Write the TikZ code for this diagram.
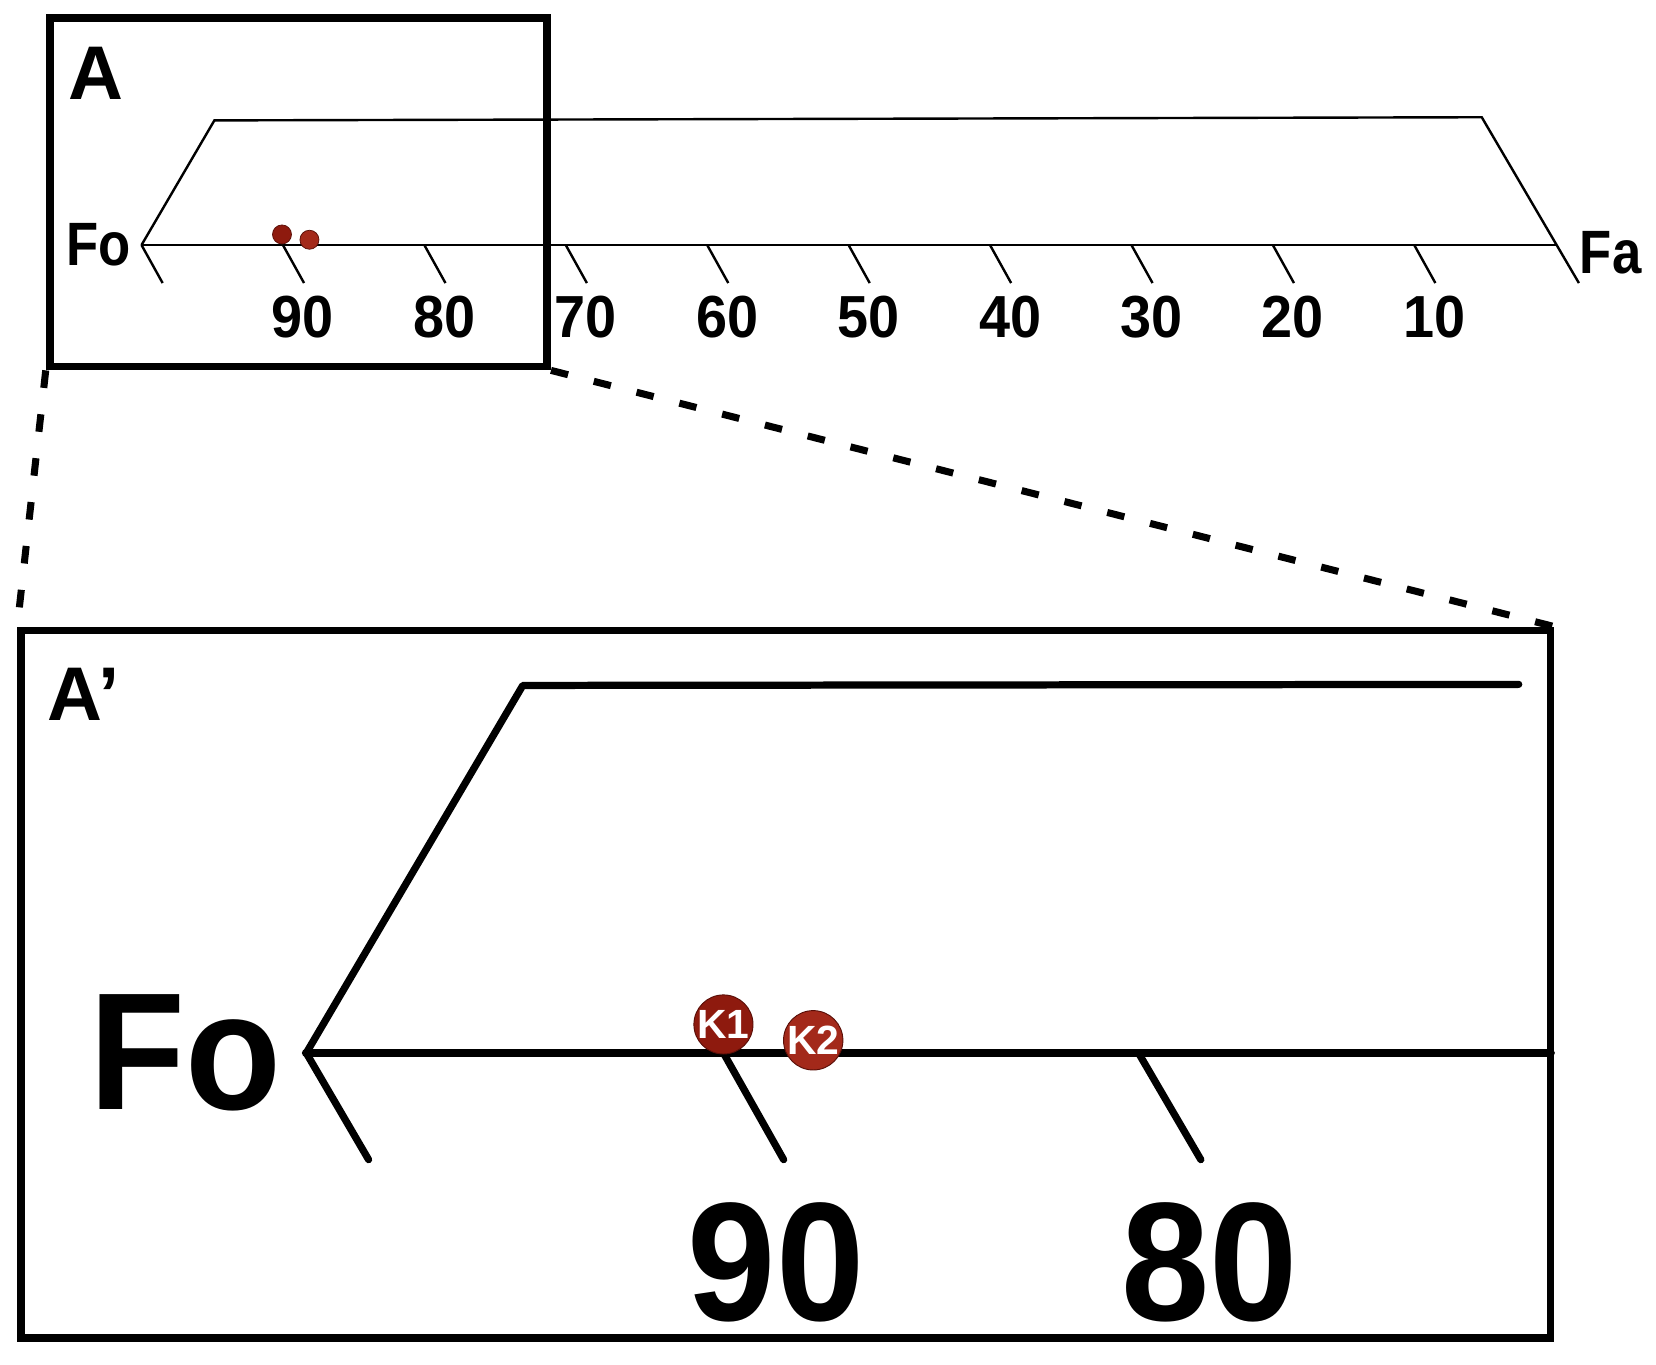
\documentclass[tikz,border=0pt]{standalone}
\usepackage{fontspec}
\setmainfont{Liberation Sans}
\newfontfamily\narrowA[FakeStretch=0.86]{Liberation Sans}
\newfontfamily\narrowB[FakeStretch=0.94]{Liberation Sans}
\usetikzlibrary{fit}
\definecolor{kone}{HTML}{8E1A0E}
\definecolor{ktwo}{HTML}{A3291A}
\definecolor{kedge}{HTML}{5A0F08}
\begin{document}
\begin{tikzpicture}[x=0.02cm,y=-0.02cm,
  framebox/.style={draw, line width=4.2pt, inner sep=0pt, line join=miter},
  dashline/.style={line width=3.8pt, dash pattern=on 9.5pt off 14.3pt},
  thinline/.style={line width=1.3pt, line join=miter},
  lowline/.style={line width=3.9pt, line cap=round, line join=round},
  axisline/.style={line width=4.8pt, line cap=round},
  boxlabel/.style={font=\bfseries\fontsize{41}{41}\selectfont, inner sep=0pt},
  smallnum/.style={font=\narrowB\bfseries\fontsize{32}{32}\selectfont, inner sep=0pt},
  endlabel/.style={font=\narrowA\bfseries\fontsize{33}{33}\selectfont, inner sep=0pt},
  bignum/.style={font=\narrowB\bfseries\fontsize{91}{91}\selectfont, inner sep=0pt},
  dot/.style={circle, draw=kedge, line width=0.4pt, inner sep=0pt, minimum size=0.36cm},
  kdot/.style={circle, draw=kedge, line width=0.5pt, inner sep=0pt, minimum size=1.08cm,
    text=white, font=\bfseries\fontsize{22}{22}\selectfont}
]
\fill[white] (0,0) rectangle (1568,1292);
\useasboundingbox (0,0) rectangle (1568,1292);

% frames
\coordinate (aTL) at (47,17);
\coordinate (aBR) at (518,347);
\node[framebox, fit=(aTL)(aBR)] (boxA) {};
\coordinate (bTL) at (20,597);
\coordinate (bBR) at (1468,1267);
\node[framebox, fit=(bTL)(bBR)] (boxB) {};

\draw[dashline] (boxA.south west) -- (boxB.north west);
\draw[dashline] (boxA.south east) -- (boxB.north east);

\node[boxlabel] (labA) at (91,69) {A};
\node[boxlabel, anchor=west] (labAp) at (45,657) {A’};

% upper diagram
\coordinate (uFo) at (134,232);
\coordinate (uTL) at (203,114);
\coordinate (uTR) at (1403,111);
\coordinate (uFa) at (1473,232);
\coordinate (uFaT) at (1495,268);
\draw[thinline] (uFo) -- (uTL) -- (uTR) -- (uFaT);
\draw[thinline] (uFo) -- (uFa);
\foreach \k in {0,...,9} {
  \coordinate (ut\k) at (134+133.9*\k,232);
  \draw[thinline] (ut\k) -- ++(20,36);
}
\foreach \k/\lab in {1/90,2/80,3/70,4/60,5/50,6/40,7/30,8/20,9/10} {
  \node[smallnum] (ul\k) at (134+133.9*\k+19,300) {\lab};
}
\node[endlabel] (uFoL) at (93,232) {Fo};
\node[endlabel] (uFaL) at (1525,239) {Fa};
\node[dot, fill=kone] (ud1) at (267,222) {};
\node[dot, fill=ktwo] (ud2) at (293,227) {};

% lower diagram
\coordinate (lFo) at (290,997);
\coordinate (lTL) at (495,649);
\coordinate (lTR) at (1438,648);
\coordinate (lR) at (1468,997);
\draw[lowline] (lFo) -- (lTL) -- (lTR);
\draw[axisline] (lFo) -- (lR);
\coordinate (lt0) at (290,997);
\coordinate (lt1) at (685,997);
\coordinate (lt2) at (1078,997);
\draw[lowline] (lt0) -- ++(59,101);
\draw[lowline] (lt1) -- ++(57,101);
\draw[lowline] (lt2) -- ++(59,101);
\node[bignum] (l90) at (735,1195) {90};
\node[bignum] (l80) at (1145,1195) {80};
\node[bignum, font=\narrowB\bfseries\fontsize{90}{90}\selectfont] (lFoL) at (176,997) {Fo};
\node[kdot, fill=kone] (K1) at (685,970) {K1};
\node[kdot, fill=ktwo] (K2) at (770,985) {K2};
\end{tikzpicture}
\end{document}
